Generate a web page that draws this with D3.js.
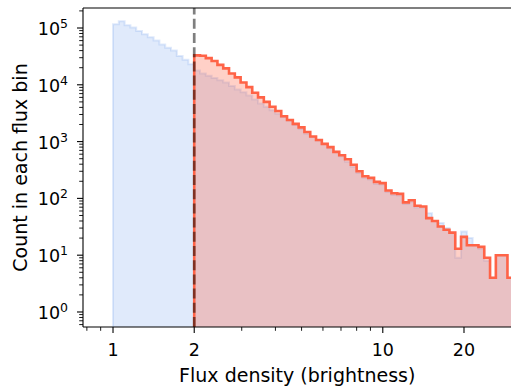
<!DOCTYPE html>
<html>
<head>
<meta charset="utf-8">
<script src="https://cdn.jsdelivr.net/npm/d3@7"></script>
<style>
  body { margin: 0; background: #fff; }
  text { font-family: "DejaVu Sans", sans-serif; fill: #000; }
</style>
</head>
<body>
<svg id="chart" width="511" height="386"></svg>
<script>
// log-spaced bins: 14 per factor of two, edge k = 2^(k/14)
const binsPerOctave = 14;

// all sources, bins starting at flux 1 (edge index 0)
const allStart = 0;
const allCounts = [
  117000, 132000, 112000, 102000, 89000, 78000, 69000, 60000, 51000, 45000,
  40000, 32000, 27500, 23000, 17800, 15800, 14500, 13200, 12000, 11000,
  9500, 8300, 7400, 6450, 5500, 4700, 4100, 3550, 3100, 2700,
  2350, 1950, 1660, 1380, 1200, 1050, 910, 760, 660, 550,
  440, 360, 280, 230, 215, 180, 175, 130, 115, 112,
  80, 87, 69, 69, 55, 40, 37, 30, 25, 9,
  26, 20, 15, 13, 8, 4, 10, 10, 4
];

// selected sources, bins starting at flux 2 (edge index 14)
const selStart = 14;
const selCounts = [
  33000, 32400, 29500, 26300, 22400, 19500, 15800, 13500, 11000, 9100,
  7250, 6000, 5000, 4100, 3450, 2800, 2400, 2050, 1780, 1480,
  1230, 1070, 910, 800, 660, 575, 490, 390, 300, 245,
  230, 195, 186, 138, 123, 120, 85, 93, 74, 72,
  45, 40, 32, 28, 25, 13, 21, 15, 15, 14,
  9, 4, 10, 10, 4
];

const cutFlux = 2;
const xTicks = [1, 2, 10, 20];
const xMinorTicks = [0.8, 0.9, 3, 4, 5, 6, 7, 8, 9, 30];
const yExponents = [0, 1, 2, 3, 4, 5];

const xLabel = 'Flux density (brightness)';
const yLabel = 'Count in each flux bin';

const plotLeft = 83, plotRight = 511.5, plotTop = 8, plotBottom = 327;

const svg = d3.select('#chart');

const x = d3.scaleLog().domain([0.774, 30]).range([plotLeft, plotRight]);
const y = d3.scaleLog().domain([0.544, 2.25e5]).range([plotBottom, plotTop]);

const edge = (k) => Math.pow(2, k / binsPerOctave);

// outline of a step histogram, dropping to the baseline at both ends
function stepPoints(start, counts) {
  const pts = [[edge(start), null]];
  counts.forEach((c, i) => {
    pts.push([edge(start + i), c]);
    pts.push([edge(start + i + 1), c]);
  });
  pts.push([edge(start + counts.length), null]);
  return pts;
}

const line = d3.line()
  .x((d) => x(d[0]))
  .y((d) => (d[1] === null ? plotBottom + 20 : y(d[1])));

svg.append('defs').append('clipPath').attr('id', 'plot-clip')
  .append('rect')
  .attr('x', plotLeft).attr('y', plotTop)
  .attr('width', plotRight - plotLeft).attr('height', plotBottom - plotTop);

const plot = svg.append('g').attr('clip-path', 'url(#plot-clip)');

const allPts = stepPoints(allStart, allCounts);
const selPts = stepPoints(selStart, selCounts);

plot.append('path')
  .attr('d', line(allPts))
  .attr('fill', 'cornflowerblue')
  .attr('fill-opacity', 0.2)
  .attr('stroke', 'cornflowerblue')
  .attr('stroke-opacity', 0.2)
  .attr('stroke-width', 2);

plot.append('path')
  .attr('d', line(selPts))
  .attr('fill', 'tomato')
  .attr('fill-opacity', 0.3)
  .attr('stroke', 'none');

plot.append('path')
  .attr('d', line(selPts))
  .attr('fill', 'none')
  .attr('stroke', 'tomato')
  .attr('stroke-width', 2.6)
  .attr('stroke-linejoin', 'miter');

// cut line, drawn bottom to top like axvline
plot.append('line')
  .attr('x1', x(cutFlux)).attr('x2', x(cutFlux))
  .attr('y1', plotBottom).attr('y2', plotTop)
  .attr('stroke', 'black')
  .attr('stroke-opacity', 0.5)
  .attr('stroke-width', 2.7)
  .attr('stroke-dasharray', '10,4.2');

// spines (right one falls just outside the picture)
const spines = svg.append('g')
  .attr('stroke', 'black').attr('stroke-width', 1.1).attr('fill', 'none');
spines.append('line').attr('x1', plotLeft).attr('x2', plotLeft).attr('y1', plotTop).attr('y2', plotBottom);
spines.append('line').attr('x1', plotLeft).attr('x2', plotRight).attr('y1', plotBottom).attr('y2', plotBottom);
spines.append('line').attr('x1', plotLeft).attr('x2', plotRight).attr('y1', plotTop).attr('y2', plotTop);

const [x0, x1] = x.domain();
const [y0, y1] = y.domain();

// x ticks
const xAxis = svg.append('g');
xAxis.selectAll('.minor')
  .data(xMinorTicks.filter((v) => v >= x0 && v < x1))
  .enter().append('line')
  .attr('x1', (d) => x(d)).attr('x2', (d) => x(d))
  .attr('y1', plotBottom).attr('y2', plotBottom + 3.8)
  .attr('stroke', 'black').attr('stroke-width', 0.9);
xAxis.selectAll('.major')
  .data(xTicks)
  .enter().append('line')
  .attr('x1', (d) => x(d)).attr('x2', (d) => x(d))
  .attr('y1', plotBottom).attr('y2', plotBottom + 6)
  .attr('stroke', 'black').attr('stroke-width', 1.1);
xAxis.selectAll('text')
  .data(xTicks)
  .enter().append('text')
  .attr('x', (d) => x(d))
  .attr('y', plotBottom + 29)
  .attr('text-anchor', 'middle')
  .style('font-size', '17.5px')
  .text((d) => d);

// y ticks
const yMinor = [];
for (let e = -1; e <= 5; e++) {
  for (let m = 2; m <= 9; m++) {
    const v = m * Math.pow(10, e);
    if (v >= y0 && v <= y1) yMinor.push(v);
  }
}
const yAxis = svg.append('g');
yAxis.selectAll('.minor')
  .data(yMinor)
  .enter().append('line')
  .attr('x1', plotLeft - 3.8).attr('x2', plotLeft)
  .attr('y1', (d) => y(d)).attr('y2', (d) => y(d))
  .attr('stroke', 'black').attr('stroke-width', 0.9);
yAxis.selectAll('.major')
  .data(yExponents)
  .enter().append('line')
  .attr('x1', plotLeft - 6).attr('x2', plotLeft)
  .attr('y1', (d) => y(Math.pow(10, d))).attr('y2', (d) => y(Math.pow(10, d)))
  .attr('stroke', 'black').attr('stroke-width', 1.1);
const yText = yAxis.selectAll('text')
  .data(yExponents)
  .enter().append('text')
  .attr('x', plotLeft - 15)
  .attr('y', (d) => y(Math.pow(10, d)) + 7)
  .attr('text-anchor', 'end')
  .style('font-size', '17.5px');
yText.append('tspan').text('10');
yText.append('tspan')
  .attr('dy', -7)
  .style('font-size', '12.5px')
  .text((d) => d);

// axis labels
svg.append('text')
  .attr('x', (plotLeft + plotRight) / 2)
  .attr('y', 381.5)
  .attr('text-anchor', 'middle')
  .style('font-size', '19px')
  .text(xLabel);

svg.append('text')
  .attr('transform', `translate(26.5,${(plotTop + plotBottom) / 2}) rotate(-90)`)
  .attr('text-anchor', 'middle')
  .style('font-size', '19px')
  .text(yLabel);
</script>
</body>
</html>
